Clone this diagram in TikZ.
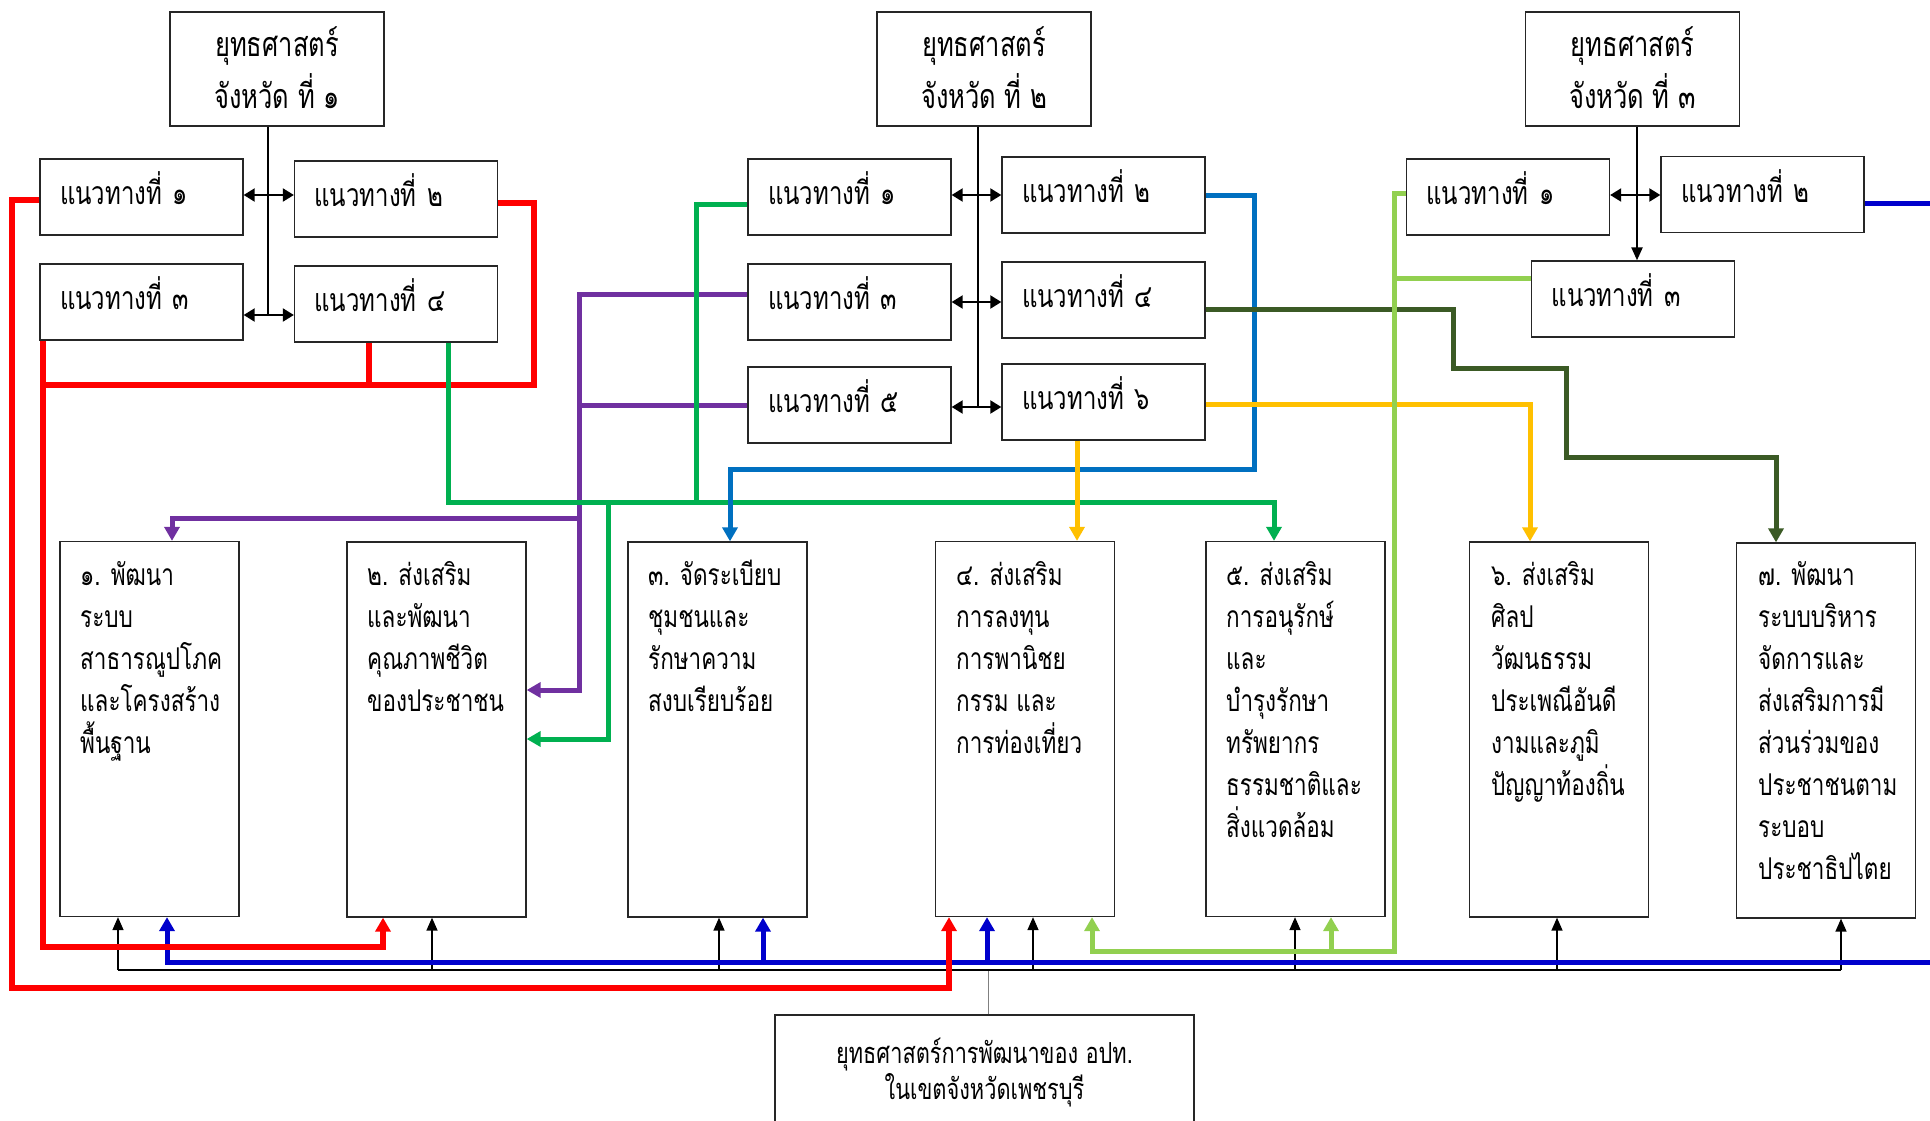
\documentclass[tikz,border=0pt]{standalone}
\usepackage{fontspec}
\newfontfamily\thaifont[Script=Thai,FakeStretch=0.75]{Loma}
\usetikzlibrary{arrows.meta}
\definecolor{cRed}{HTML}{FF0000}
\definecolor{cBlue}{HTML}{0070C0}
\definecolor{cDBlue}{HTML}{0000CC}
\definecolor{cGreen}{HTML}{00B050}
\definecolor{cLGreen}{HTML}{92D050}
\definecolor{cYellow}{HTML}{FFC000}
\definecolor{cPurple}{HTML}{7030A0}
\definecolor{cDGreen}{HTML}{3B5A25}
\begin{document}
\begin{tikzpicture}[x=1pt,y=-1pt,
  every node/.style={font=\thaifont\fontsize{30}{42}\selectfont},
  box/.style={draw=black!85, line width=1.3pt, rectangle, inner sep=0pt},
  sbox/.style={box, minimum width=214pt, minimum height=114pt},
  gbox/.style={box, minimum width=203pt, minimum height=76pt, text width=163pt, inner xsep=20pt, align=left, text height=19pt, text depth=4pt, font=\thaifont\fontsize{32}{42}\selectfont},
  bbox/.style={box, minimum width=179pt, minimum height=375pt},
  ttext/.style={align=center, inner sep=0pt, font=\thaifont\fontsize{34}{42}\selectfont},
  btext/.style={anchor=north west, align=left, inner sep=0pt},
  cline/.style={line width=5pt, line join=miter},
  ctip/.style={-{Triangle[length=14pt,width=15pt]}},
  blk/.style={line width=1.5pt, black},
  btip/.style={-{Triangle[length=13pt,width=11pt]}},
  dbl/.style={line width=2pt, black, {Triangle[length=11pt,width=13pt]}-{Triangle[length=11pt,width=13pt]}}
]
\path[fill=white, use as bounding box] (0,0) rectangle (1930,1121);

% strategy boxes
\node[sbox] (s1) at (277,69) {};
\node[ttext] (s1t) at (277,74) {\strut ยุทธศาสตร์\\[4pt]\strut จังหวัด ที่ ๑};
\node[sbox] (s2) at (984,69) {};
\node[ttext] (s2t) at (984,74) {\strut ยุทธศาสตร์\\[4pt]\strut จังหวัด ที่ ๒};
\node[sbox] (s3) at (1632.5,69) {};
\node[ttext] (s3t) at (1632.5,74) {\strut ยุทธศาสตร์\\[4pt]\strut จังหวัด ที่ ๓};

% guideline boxes
\node[gbox] (g11) at (141.5,197) {แนวทางที่ ๑};
\node[gbox] (g12) at (396,199) {แนวทางที่ ๒};
\node[gbox] (g13) at (141.5,302) {แนวทางที่ ๓};
\node[gbox] (g14) at (396,304) {แนวทางที่ ๔};
\node[gbox] (g21) at (849.5,197) {แนวทางที่ ๑};
\node[gbox] (g22) at (1103.5,195) {แนวทางที่ ๒};
\node[gbox] (g23) at (849.5,302) {แนวทางที่ ๓};
\node[gbox] (g24) at (1103.5,300) {แนวทางที่ ๔};
\node[gbox] (g25) at (849.5,405) {แนวทางที่ ๕};
\node[gbox] (g26) at (1103.5,402) {แนวทางที่ ๖};
\node[gbox] (g31) at (1508,197) {แนวทางที่ ๑};
\node[gbox] (g32) at (1762.5,194.5) {แนวทางที่ ๒};
\node[gbox] (g33) at (1633,299) {แนวทางที่ ๓};

% local strategy boxes
\node[bbox] (b1) at (149.5,729) {};
\node[bbox] (b2) at (436.5,729.5) {};
\node[bbox] (b3) at (717.5,729.5) {};
\node[bbox] (b4) at (1025,729) {};
\node[bbox] (b5) at (1295.5,729) {};
\node[bbox] (b6) at (1559,729.5) {};
\node[bbox] (b7) at (1826,730.5) {};
\node[btext] (t1) at (80,556) {\strut ๑. พัฒนา\\ระบบ\\สาธารณูปโภค\\และโครงสร้าง\\พื้นฐาน};
\node[btext] (t2) at (367,556) {\strut ๒. ส่งเสริม\\และพัฒนา\\คุณภาพชีวิต\\ของประชาชน};
\node[btext] (t3) at (648,556) {\strut ๓. จัดระเบียบ\\ชุมชนและ\\รักษาความ\\สงบเรียบร้อย};
\node[btext] (t4) at (956,556) {\strut ๔. ส่งเสริม\\การลงทุน\\การพานิชย\\กรรม และ\\การท่องเที่ยว};
\node[btext] (t5) at (1226,556) {\strut ๕. ส่งเสริม\\การอนุรักษ์\\และ\\บำรุงรักษา\\ทรัพยากร\\ธรรมชาติและ\\สิ่งแวดล้อม};
\node[btext] (t6) at (1491,556) {\strut ๖. ส่งเสริม\\ศิลป\\วัฒนธรรม\\ประเพณีอันดี\\งามและภูมิ\\ปัญญาท้องถิ่น};
\node[btext] (t7) at (1758,556) {\strut ๗. พัฒนา\\ระบบบริหาร\\จัดการและ\\ส่งเสริมการมี\\ส่วนร่วมของ\\ประชาชนตาม\\ระบอบ\\ประชาธิปไตย};

% final box (runs past the bottom edge)
\node[box, minimum width=419pt, minimum height=120pt] (f) at (984.5,1075) {};
\node[ttext, font=\thaifont\fontsize{29}{42}\selectfont] (ft) at (984.5,1073) {\strut ยุทธศาสตร์การพัฒนาของ อปท.\\[-6pt]\strut ในเขตจังหวัดเพชรบุรี};

% black connectors, top
\draw[blk] ([xshift=-9pt]s1.south) -- (268,315);
\draw[dbl] ([yshift=2pt]g11.east) -- ([yshift=4pt]g12.west);
\draw[dbl] ([yshift=-13pt]g13.east) -- ([yshift=-11pt]g14.west);
\draw[blk] ([xshift=-6pt]s2.south) -- (978,407);
\draw[dbl] ([yshift=2pt]g21.east) -- (g22.west);
\draw[dbl] (g23.east) -- ([yshift=-2pt]g24.west);
\draw[dbl] ([yshift=-2pt]g25.east) -- ([yshift=-5pt]g26.west);
\draw[blk, line width=2.2pt, btip] ([xshift=4.5pt]s3.south) -- ([xshift=4pt]g33.north);
\draw[dbl] ([yshift=2pt]g31.east) -- ([yshift=-0.5pt]g32.west);

% black connectors, bottom
\draw[gray, line width=1pt] ([xshift=3.5pt]f.north) -- (988,970);
\draw[blk] (118,970) -- (1841,970);
\draw[blk, btip] (118,970) -- ([xshift=-31.5pt]b1.south);
\draw[blk, btip] (432,970) -- ([xshift=-4.5pt]b2.south);
\draw[blk, btip] (719,970) -- ([xshift=1.5pt]b3.south);
\draw[blk, btip] (1033,970) -- ([xshift=8pt]b4.south);
\draw[blk, btip] (1295,970) -- ([xshift=-0.5pt]b5.south);
\draw[blk, btip] (1557,970) -- ([xshift=-2pt]b6.south);
\draw[blk, btip] (1841,970) -- ([xshift=15pt]b7.south);

% dark blue
\draw[cline, cDBlue] ([yshift=-8.5pt]g32.east) -- (1935,203);
\draw[cline, cDBlue, ctip] (1935,962) -- (167,962) -- ([xshift=17.5pt]b1.south);
\draw[cline, cDBlue, ctip] (763,962) -- ([xshift=45.5pt]b3.south);
\draw[cline, cDBlue, ctip] (987,962) -- ([xshift=-38pt]b4.south);

% red
\draw[cline, cRed, line width=6pt] ([yshift=-4pt]g12.east) -- (534,203) -- (534,385) -- (43,385);
\draw[cline, cRed, line width=6pt] ([xshift=-27pt]g14.south) -- (369,385);
\draw[cline, cRed, line width=6pt, ctip] ([xshift=-98.5pt]g13.south) -- (43,947) -- (383,947) -- ([xshift=-53.5pt]b2.south);
\draw[cline, cRed, line width=6pt, ctip] ([yshift=-3pt]g11.west) -- (12,200) -- (12,988) -- (949,988) -- ([xshift=-76pt]b4.south);

% purple
\draw[cline, cPurple] (g25.west) -- (579,405);
\draw[cline, cPurple, ctip] ([yshift=8pt]g23.west) -- (579,294) -- (579,518) -- (172,518) -- ([xshift=22.5pt]b1.north);
\draw[cline, cPurple, ctip] (579,294) -- (579,690) -- ([yshift=39.5pt]b2.east);

% green
\draw[cline, cGreen] ([yshift=-7pt]g21.west) -- (696,204) -- (696,502);
\draw[cline, cGreen, ctip] ([xshift=52pt]g14.south) -- (448,502) -- (1274,502) -- ([xshift=-21.5pt]b5.north);
\draw[cline, cGreen, ctip] (608,502) -- (608,739) -- ([yshift=-9.5pt]b2.east);

% blue
\draw[cline, cBlue, ctip] (g22.east) -- (1254,195) -- (1254,469) -- (730,469) -- ([xshift=12.5pt]b3.north);

% yellow
\draw[cline, cYellow, ctip] ([yshift=-2pt]g26.east) -- (1530,404) -- ([xshift=-29pt]b6.north);
\draw[cline, cYellow, ctip] ([xshift=-26.5pt]g26.south) -- ([xshift=52pt]b4.north);

% dark green
\draw[cline, cDGreen, ctip] ([yshift=-9pt]g24.east) -- (1453,309) -- (1453,368) -- (1566,368) -- (1566,457) -- (1776,457) -- ([xshift=-50pt]b7.north);

% light green
\draw[cline, cLGreen] ([yshift=21pt]g33.west) -- (1394,278);
\draw[cline, cLGreen, ctip] ([yshift=4pt]g31.west) -- (1394,193) -- (1394,951) -- (1092,951) -- ([xshift=67pt]b4.south);
\draw[cline, cLGreen, ctip] (1331,951) -- ([xshift=35.5pt]b5.south);
\end{tikzpicture}
\end{document}
